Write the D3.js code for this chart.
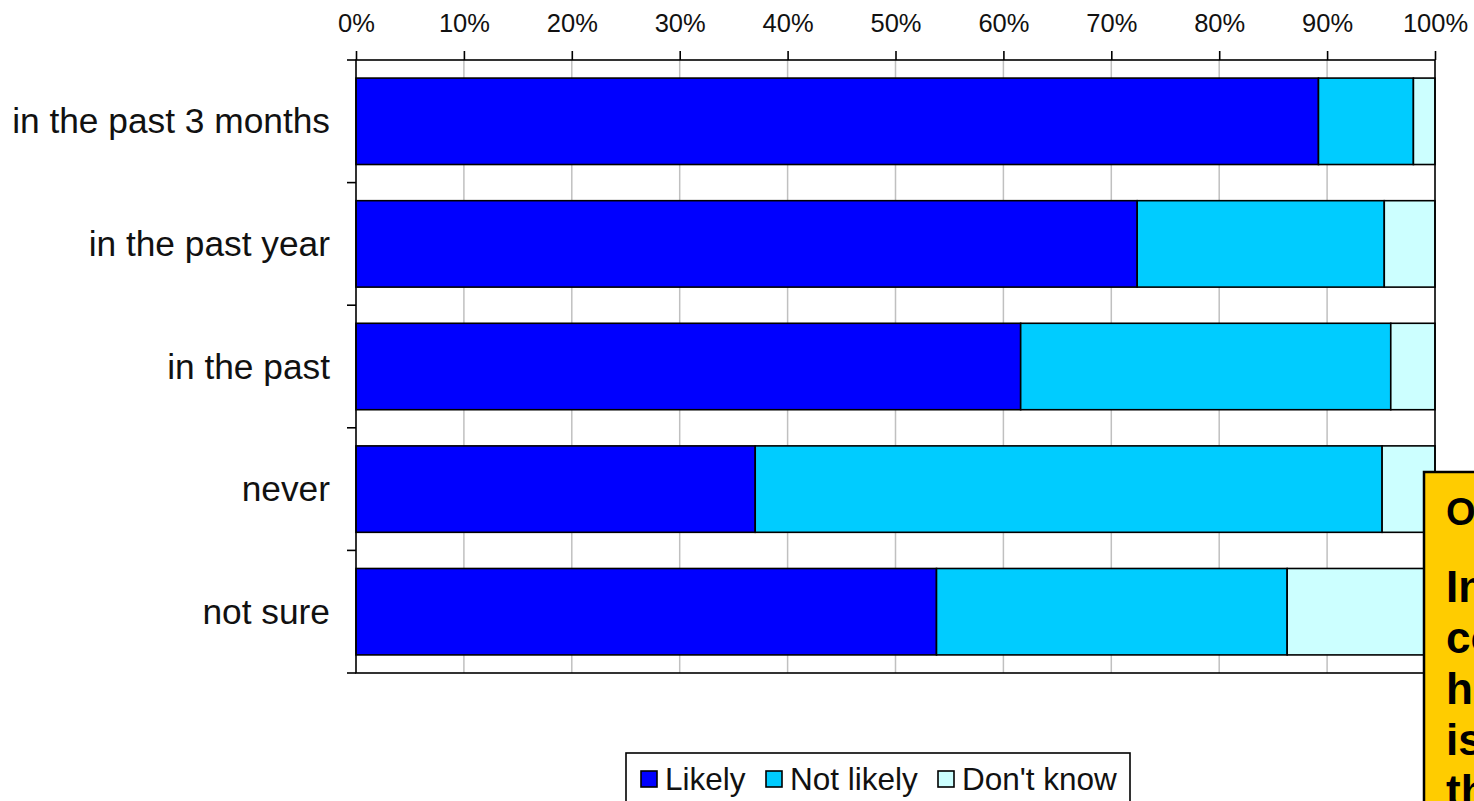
<!DOCTYPE html>
<html>
<head>
<meta charset="utf-8">
<script src="https://cdn.jsdelivr.net/npm/d3@7"></script>
<style>
  html, body { margin: 0; padding: 0; background: #fff; }
  svg { display: block; font-family: "Liberation Sans", Arial, sans-serif; }
</style>
</head>
<body>
<svg id="chart" width="1474" height="801"></svg>
<script>
// Survey answers by when the respondent last tested (shares of 1)
const categories = ["in the past 3 months", "in the past year", "in the past", "never", "not sure"];
const seriesNames = ["Likely", "Not likely", "Don't know"];
const likely    = [0.892, 0.724, 0.616, 0.370, 0.538];
const notLikely = [0.088, 0.229, 0.343, 0.581, 0.325];
const dontKnow  = [0.020, 0.047, 0.041, 0.049, 0.137];
const tickValues = [0, 0.1, 0.2, 0.3, 0.4, 0.5, 0.6, 0.7, 0.8, 0.9, 1.0];
const noteTitle = "Observation";
const noteLines = ["Intention to", "continue", "having tested", "is strongest", "the more recent"];

const colors = ["#0000FF", "#00CCFF", "#CCFFFF"];

const svg = d3.select("#chart");
const plot = { left: 356, right: 1435, top: 60, bottom: 673 };

const x = d3.scaleLinear().domain([0, 1]).range([plot.left, plot.right]);
const y = d3.scaleBand().domain(categories).range([plot.top, plot.bottom])
  .paddingInner(0.295).paddingOuter(0.1475);

const stackData = categories.map((c, i) => {
  const o = { cat: c };
  o[seriesNames[0]] = likely[i];
  o[seriesNames[1]] = notLikely[i];
  o[seriesNames[2]] = dontKnow[i];
  return o;
});
const stacked = d3.stack().keys(seriesNames)(stackData);

// vertical gridlines
svg.append("g").selectAll("line")
  .data(tickValues.filter(v => v > 0 && v < 1))
  .join("line")
  .attr("x1", d => x(d)).attr("x2", d => x(d))
  .attr("y1", plot.top).attr("y2", plot.bottom)
  .attr("stroke", "#c0c0c0").attr("stroke-width", 1.5);

// stacked bars
svg.append("g").selectAll("g")
  .data(stacked)
  .join("g")
  .attr("fill", (d, i) => colors[i])
  .selectAll("rect")
  .data(d => d)
  .join("rect")
  .attr("x", d => x(d[0]))
  .attr("width", d => x(d[1]) - x(d[0]))
  .attr("y", d => y(d.data.cat))
  .attr("height", y.bandwidth())
  .attr("stroke", "#000")
  .attr("stroke-width", 1.6);

// plot border
svg.append("rect")
  .attr("x", plot.left).attr("y", plot.top)
  .attr("width", plot.right - plot.left).attr("height", plot.bottom - plot.top)
  .attr("fill", "none").attr("stroke", "#000").attr("stroke-width", 1.6);

// top percentage axis
const xAxis = d3.axisTop(x).tickValues(tickValues).tickFormat(d3.format(".0%"))
  .tickSize(9).tickSizeOuter(0).tickPadding(19);
const gx = svg.append("g").attr("transform", `translate(0,${plot.top})`).call(xAxis);
gx.select(".domain").remove();
gx.selectAll(".tick line").attr("stroke", "#000").attr("stroke-width", 1.6);
gx.selectAll(".tick text").attr("font-size", 25.5).attr("fill", "#111")
  .attr("font-family", "Liberation Sans, Arial, sans-serif");

// category separators on the left edge
const boundaries = d3.range(categories.length + 1).map(i => plot.top + i * y.step());
svg.append("g").selectAll("line")
  .data(boundaries)
  .join("line")
  .attr("x1", plot.left - 9).attr("x2", plot.left)
  .attr("y1", d => d).attr("y2", d => d)
  .attr("stroke", "#000").attr("stroke-width", 1.6);

// category labels
svg.append("g").selectAll("text")
  .data(categories)
  .join("text")
  .attr("x", 330)
  .attr("y", d => y(d) + y.bandwidth() / 2 + 12)
  .attr("text-anchor", "end")
  .attr("font-size", 35.3)
  .attr("fill", "#111")
  .text(d => d);

// legend
const legend = svg.append("g");
legend.append("rect")
  .attr("x", 626).attr("y", 753).attr("width", 504).attr("height", 70)
  .attr("fill", "#fff").attr("stroke", "#000").attr("stroke-width", 1.6);
const legendX = [641, 766, 938];
seriesNames.forEach((s, i) => {
  legend.append("rect")
    .attr("x", legendX[i]).attr("y", 771).attr("width", 16).attr("height", 16)
    .attr("fill", colors[i]).attr("stroke", "#000").attr("stroke-width", 1.6);
  legend.append("text")
    .attr("x", legendX[i] + 24).attr("y", 790)
    .attr("font-size", 31.5).attr("fill", "#111")
    .text(s);
});

// note box at the right edge
const note = svg.append("g");
note.append("rect")
  .attr("x", 1424).attr("y", 472).attr("width", 300).attr("height", 400)
  .attr("fill", "#FFCC00").attr("stroke", "#000").attr("stroke-width", 2.5);
note.append("text")
  .attr("x", 1446).attr("y", 525)
  .attr("font-size", 38).attr("font-weight", "bold").attr("fill", "#000")
  .text(noteTitle);
noteLines.forEach((t, i) => {
  note.append("text")
    .attr("x", 1446).attr("y", 602 + i * 51)
    .attr("font-size", 44).attr("font-weight", "bold").attr("fill", "#000")
    .text(t);
});
</script>
</body>
</html>
